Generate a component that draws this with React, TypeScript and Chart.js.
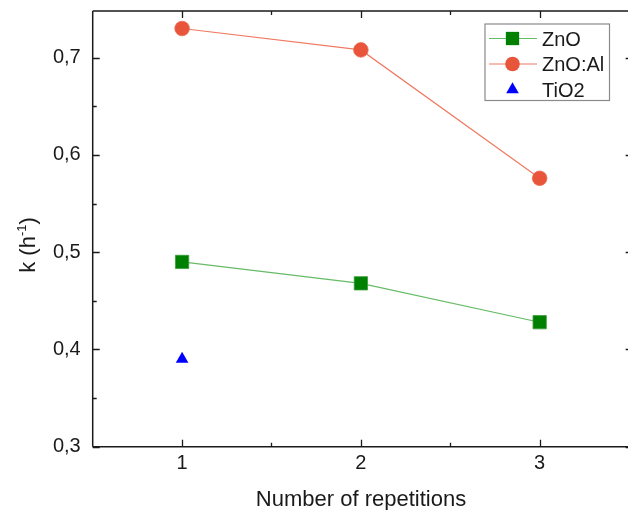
import React, { useEffect, useRef } from "react";
import { Chart, registerables } from "chart.js";

Chart.register(...registerables);

const repetitions = [1, 2, 3];
const znoValues = [0.49, 0.468, 0.428];
const znoAlValues = [0.73, 0.708, 0.576];
const tio2Repetitions = [1];
const tio2Values = [0.39];

const xTicks = [1, 2, 3];
const xTickLabels = ["1", "2", "3"];
const xMinorTicks = [1.5, 2.5];
const yTicks = [0.3, 0.4, 0.5, 0.6, 0.7];
const yTickLabels = ["0,3", "0,4", "0,5", "0,6", "0,7"];
const yMinorTicks = [0.35, 0.45, 0.55, 0.65];

const seriesNames = ["ZnO", "ZnO:Al", "TiO2"];
const xTitle = "Number of repetitions";

const X_MIN = 0.5;
const X_VISIBLE_MAX = 3.494;
const X_FRAME_MAX = 3.52;

const FONT = "'Liberation Sans', Arial, sans-serif";

function drawMarker(ctx: any, style: string, r: number, x: number, y: number) {
  ctx.beginPath();
  if (style === "rect") {
    const s = Math.SQRT1_2 * r;
    ctx.rect(x - s, y - s, 2 * s, 2 * s);
  } else if (style === "circle") {
    ctx.arc(x, y, r, 0, Math.PI * 2);
  } else if (style === "triangle") {
    for (let k = 0; k < 3; k++) {
      const a = (k * 2 * Math.PI) / 3;
      const px = x + Math.sin(a) * r;
      const py = y - Math.cos(a) * r;
      if (k === 0) ctx.moveTo(px, py);
      else ctx.lineTo(px, py);
    }
    ctx.closePath();
  }
  ctx.fill();
}

const framePlugin = {
  id: "frame",
  afterDraw(chart: any) {
    const ctx = chart.ctx;
    const { left, top, bottom } = chart.chartArea;
    const xs = chart.scales.x;
    const ys = chart.scales.y;
    const right = xs.getPixelForValue(X_FRAME_MAX);
    ctx.save();
    ctx.strokeStyle = "#1a1a1a";
    ctx.lineWidth = 1.5;
    ctx.beginPath();
    ctx.moveTo(left, top);
    ctx.lineTo(left, bottom);
    ctx.moveTo(left, bottom);
    ctx.lineTo(right, bottom);
    ctx.moveTo(left, top);
    ctx.lineTo(right, top);
    ctx.moveTo(right, top);
    ctx.lineTo(right, bottom);
    ctx.stroke();
    ctx.lineWidth = 1.3;
    ctx.beginPath();
    const major = 7;
    const minor = 4;
    xTicks.forEach((v) => {
      const px = Math.round(xs.getPixelForValue(v)) + 0.5;
      ctx.moveTo(px, bottom);
      ctx.lineTo(px, bottom - major);
      ctx.moveTo(px, top);
      ctx.lineTo(px, top + major);
    });
    xMinorTicks.forEach((v) => {
      const px = Math.round(xs.getPixelForValue(v)) + 0.5;
      ctx.moveTo(px, bottom);
      ctx.lineTo(px, bottom - minor);
      ctx.moveTo(px, top);
      ctx.lineTo(px, top + minor);
    });
    yTicks.forEach((v) => {
      const py = Math.round(ys.getPixelForValue(v)) + 0.5;
      ctx.moveTo(left, py);
      ctx.lineTo(left + major, py);
      ctx.moveTo(right, py);
      ctx.lineTo(right - major, py);
    });
    yMinorTicks.forEach((v) => {
      const py = Math.round(ys.getPixelForValue(v)) + 0.5;
      ctx.moveTo(left, py);
      ctx.lineTo(left + minor, py);
      ctx.moveTo(right, py);
      ctx.lineTo(right - minor, py);
    });
    ctx.stroke();

    // x title
    ctx.fillStyle = "#1a1a1a";
    ctx.font = `22px ${FONT}`;
    ctx.textAlign = "center";
    ctx.textBaseline = "alphabetic";
    ctx.fillText(xTitle, 361, 506);

    // y title: k (h^-1)
    ctx.save();
    ctx.translate(35, 245);
    ctx.rotate(-Math.PI / 2);
    const mainFont = `22px ${FONT}`;
    const supFont = `13px ${FONT}`;
    const p1 = "k (h";
    const sup = "-1";
    const p2 = ")";
    ctx.font = mainFont;
    const w1 = ctx.measureText(p1).width;
    const w3 = ctx.measureText(p2).width;
    ctx.font = supFont;
    const w2 = ctx.measureText(sup).width;
    let x0 = -(w1 + w2 + w3) / 2;
    ctx.textAlign = "left";
    ctx.font = mainFont;
    ctx.fillText(p1, x0, 0);
    x0 += w1;
    ctx.font = supFont;
    ctx.fillText(sup, x0, -9);
    x0 += w2;
    ctx.font = mainFont;
    ctx.fillText(p2, x0, 0);
    ctx.restore();

    // legend
    const bx = 485, by = 24, bw = 124.5, bh = 76.5;
    ctx.fillStyle = "#ffffff";
    ctx.fillRect(bx, by, bw, bh);
    ctx.strokeStyle = "#8a8a8a";
    ctx.lineWidth = 1.2;
    ctx.strokeRect(bx, by, bw, bh);
    const rowsY = [38.5, 64, 89.5];
    chart.data.datasets.forEach((ds: any, i: number) => {
      const cy = rowsY[i];
      if (ds.showLine !== false) {
        ctx.strokeStyle = ds.borderColor;
        ctx.lineWidth = ds.borderWidth;
        ctx.beginPath();
        ctx.moveTo(489, cy);
        ctx.lineTo(537, cy);
        ctx.stroke();
      }
      ctx.fillStyle = ds.pointBackgroundColor;
      drawMarker(ctx, ds.pointStyle, ds.pointRadius, 512.5, cy);
      ctx.fillStyle = "#1a1a1a";
      ctx.font = `20px ${FONT}`;
      ctx.textAlign = "left";
      ctx.textBaseline = "alphabetic";
      ctx.fillText(seriesNames[i], 542, cy + 7);
    });
    ctx.restore();
  },
};

export default function App() {
  const ref = useRef<HTMLCanvasElement | null>(null);
  useEffect(() => {
    if (!ref.current) return;
    const chart = new Chart(ref.current, {
      type: "scatter",
      data: {
        datasets: [
          {
            label: seriesNames[0],
            data: repetitions.map((x, i) => ({ x, y: znoValues[i] })),
            showLine: true,
            borderColor: "#66bb66",
            borderWidth: 1.2,
            pointStyle: "rect",
            pointRadius: 9.4,
            pointBackgroundColor: "#008000",
            pointBorderColor: "#3a9a3a",
            pointBorderWidth: 0.8,
          },
          {
            label: seriesNames[1],
            data: repetitions.map((x, i) => ({ x, y: znoAlValues[i] })),
            showLine: true,
            borderColor: "#f07a62",
            borderWidth: 1.2,
            pointStyle: "circle",
            pointRadius: 7.3,
            pointBackgroundColor: "#e8553a",
            pointBorderColor: "#ec6a52",
            pointBorderWidth: 0.8,
          },
          {
            label: seriesNames[2],
            data: tio2Repetitions.map((x, i) => ({ x, y: tio2Values[i] })),
            showLine: false,
            borderColor: "#0000ff",
            borderWidth: 1,
            pointStyle: "triangle",
            pointRadius: 7.3,
            pointBackgroundColor: "#0000ff",
            pointBorderColor: "#0000ff",
            pointBorderWidth: 0,
          },
        ],
      },
      options: {
        responsive: false,
        animation: false,
        events: [],
        layout: { autoPadding: false, padding: { top: 11, right: 0, left: 0, bottom: 0 } },
        plugins: {
          legend: { display: false },
          tooltip: { enabled: false },
          title: { display: false },
        },
        scales: {
          x: {
            type: "linear",
            min: X_MIN,
            max: X_VISIBLE_MAX,
            grid: { display: false, drawTicks: false },
            border: { display: false },
            afterBuildTicks: (s: any) => {
              s.ticks = xTicks.map((v) => ({ value: v }));
            },
            afterFit: (s: any) => {
              s.height = 63.3;
              s.paddingLeft = 0;
              s.paddingRight = 0;
            },
            ticks: {
              padding: 5,
              color: "#1a1a1a",
              font: { family: FONT, size: 20 },
              maxRotation: 0,
              autoSkip: false,
              callback: (_v: any, i: number) => xTickLabels[i],
            },
          },
          y: {
            type: "linear",
            min: 0.3,
            max: 0.748,
            grid: { display: false, drawTicks: false },
            border: { display: false },
            afterBuildTicks: (s: any) => {
              s.ticks = yTicks.map((v) => ({ value: v }));
            },
            afterFit: (s: any) => {
              s.width = 92.7;
              s.paddingTop = 0;
              s.paddingBottom = 0;
            },
            ticks: {
              padding: 12,
              color: "#1a1a1a",
              font: { family: FONT, size: 20 },
              autoSkip: false,
              callback: (_v: any, i: number) => yTickLabels[i],
            },
          },
        },
      },
      plugins: [framePlugin],
    });
    return () => chart.destroy();
  }, []);
  return (
    <div style={{ position: "absolute", left: 0, top: 0, width: 628, height: 510, background: "#fff" }}>
      <canvas ref={ref} width={628} height={510} style={{ display: "block" }} />
    </div>
  );
}
